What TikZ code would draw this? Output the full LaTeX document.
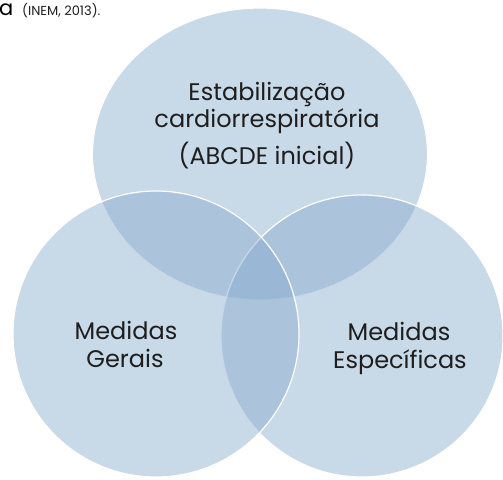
\documentclass[tikz,border=0pt]{standalone}
\usepackage{fontspec}
\setmainfont{Poppins}
\usetikzlibrary{shapes.geometric}
\definecolor{vennblue}{RGB}{134,170,205}
\definecolor{venntext}{RGB}{30,30,30}
\tikzset{
  venn/.style={fill=vennblue, fill opacity=0.45, draw=white, line width=1.2pt, inner sep=0pt},
  vennlabel/.style={text=venntext, anchor=base, inner sep=0pt, font=\fontsize{24}{24}\selectfont}
}
\begin{document}
\begin{tikzpicture}[x=1pt,y=-1pt]
  \useasboundingbox (0,0) rectangle (503,479);
  % caption fragment
  \node[anchor=base west, inner sep=0pt, font=\fontsize{21}{21}\selectfont] (capa) at (-1,16) {a};
  \node[anchor=base west, inner sep=0pt, text=venntext, font=\fontsize{13}{13}\selectfont] (cite) at (22,15) {(INEM, 2013).};
  % circles
  \node[venn, ellipse, minimum width=335pt, minimum height=292pt] (top) at (260,154) {};
  \node[venn, circle, minimum size=282pt] (right) at (362,336) {};
  \node[venn, circle, minimum size=286pt] (left) at (156,334) {};
  % labels
  \node[vennlabel] (estab) at (267,100) {Estabilização};
  \node[vennlabel] (cardio) at (267,127) {cardiorrespiratória};
  \node[vennlabel] (abcde) at (267,164) {(ABCDE inicial)};
  \node[vennlabel] (medg) at (126,339) {Medidas};
  \node[vennlabel] (gerais) at (125,367) {Gerais};
  \node[vennlabel] (medesp) at (399,340) {Medidas};
  \node[vennlabel] (espec) at (400,368) {Específicas};
\end{tikzpicture}
\end{document}
